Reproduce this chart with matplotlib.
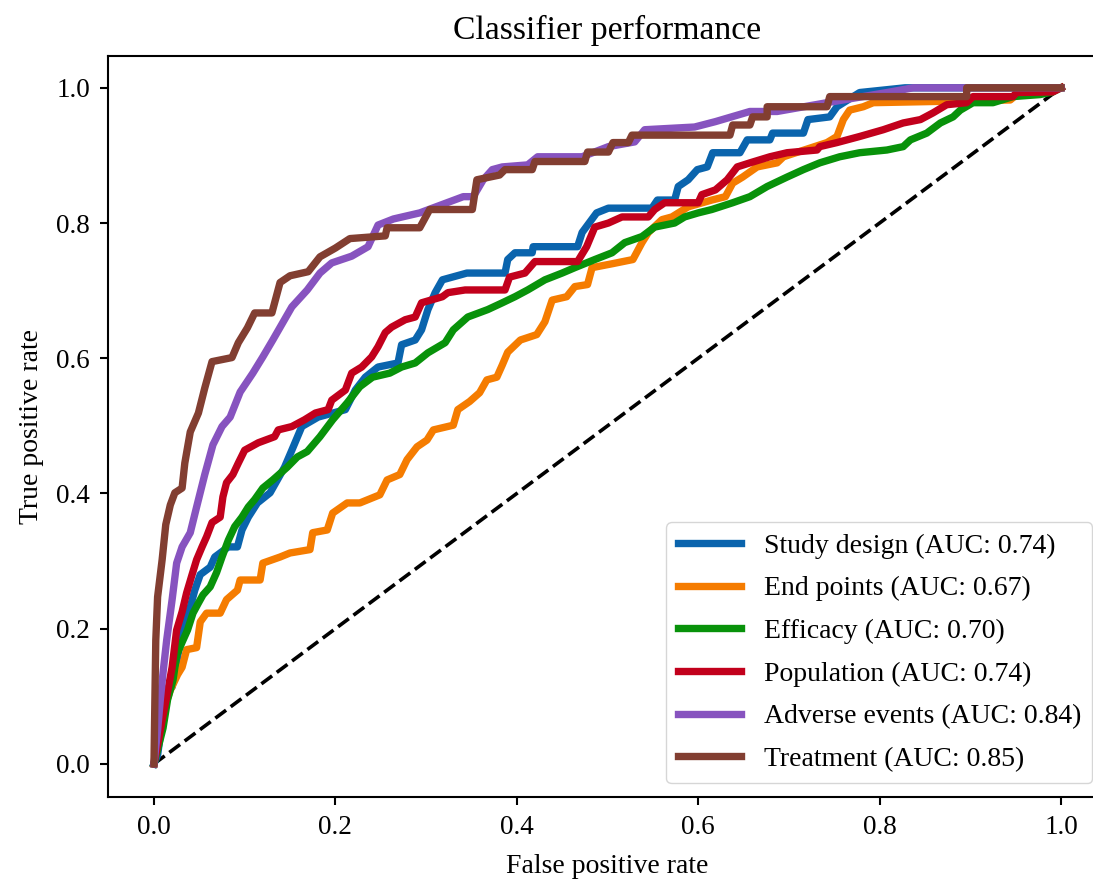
import matplotlib
matplotlib.use("Agg")
import matplotlib.pyplot as plt

plt.rcParams['font.family'] = ['Liberation Serif', 'DejaVu Serif']

# ROC curves (false positive rate, true positive rate)
study_fpr = [0, 0.004, 0.007, 0.010, 0.020, 0.026, 0.032, 0.040, 0.045, 0.051, 0.062, 0.067, 0.082, 0.092,
             0.097, 0.104, 0.114, 0.128, 0.136, 0.144, 0.152, 0.163, 0.181, 0.211, 0.222, 0.233, 0.247, 0.269,
             0.273, 0.288, 0.295, 0.302, 0.310, 0.318, 0.345, 0.387, 0.390, 0.398, 0.417, 0.418, 0.467, 0.472,
             0.488, 0.501, 0.549, 0.555, 0.574, 0.578, 0.589, 0.599, 0.610, 0.616, 0.646, 0.654, 0.679, 0.682,
             0.716, 0.721, 0.745, 0.753, 0.778, 0.828, 1.0]
study_tpr = [0, 0.013, 0.043, 0.099, 0.114, 0.158, 0.203, 0.232, 0.257, 0.280, 0.291, 0.306, 0.321, 0.321,
             0.346, 0.365, 0.386, 0.401, 0.420, 0.439, 0.464, 0.499, 0.513, 0.524, 0.553, 0.572, 0.587, 0.593,
             0.620, 0.627, 0.642, 0.672, 0.697, 0.716, 0.726, 0.726, 0.746, 0.756, 0.756, 0.765, 0.765, 0.786,
             0.815, 0.822, 0.822, 0.834, 0.834, 0.854, 0.864, 0.879, 0.883, 0.904, 0.904, 0.923, 0.923, 0.933,
             0.933, 0.953, 0.957, 0.972, 0.993, 1.0, 1.0]

end_fpr = [0, 0.004, 0.010, 0.018, 0.026, 0.031, 0.036, 0.047, 0.051, 0.058, 0.073, 0.080, 0.092, 0.095,
           0.117, 0.120, 0.139, 0.150, 0.172, 0.175, 0.191, 0.197, 0.213, 0.227, 0.249, 0.257, 0.271, 0.279,
           0.290, 0.301, 0.308, 0.330, 0.335, 0.348, 0.359, 0.367, 0.378, 0.384, 0.390, 0.404, 0.422, 0.431,
           0.439, 0.455, 0.464, 0.478, 0.483, 0.506, 0.528, 0.538, 0.545, 0.560, 0.571, 0.589, 0.615, 0.630,
           0.638, 0.649, 0.665, 0.687, 0.694, 0.742, 0.753, 0.760, 0.767, 0.782, 0.793, 0.944, 0.955, 1.0]
end_tpr = [0, 0.036, 0.077, 0.109, 0.132, 0.143, 0.169, 0.172, 0.210, 0.223, 0.223, 0.243, 0.257, 0.272,
           0.272, 0.297, 0.306, 0.312, 0.317, 0.342, 0.346, 0.371, 0.386, 0.386, 0.398, 0.420, 0.428, 0.450,
           0.469, 0.479, 0.494, 0.501, 0.524, 0.536, 0.549, 0.568, 0.572, 0.590, 0.609, 0.627, 0.635, 0.654,
           0.686, 0.691, 0.706, 0.709, 0.734, 0.740, 0.746, 0.771, 0.786, 0.805, 0.809, 0.824, 0.834, 0.839,
           0.859, 0.868, 0.883, 0.889, 0.898, 0.919, 0.928, 0.953, 0.967, 0.972, 0.978, 0.982, 0.994, 1.0]

eff_fpr = [0, 0.004, 0.010, 0.015, 0.021, 0.025, 0.031, 0.037, 0.043, 0.049, 0.054, 0.062, 0.069, 0.075,
           0.082, 0.089, 0.097, 0.104, 0.111, 0.120, 0.131, 0.147, 0.158, 0.169, 0.183, 0.197, 0.213, 0.227,
           0.241, 0.260, 0.273, 0.288, 0.302, 0.321, 0.330, 0.346, 0.368, 0.384, 0.398, 0.412, 0.431, 0.450,
           0.464, 0.486, 0.505, 0.519, 0.538, 0.552, 0.574, 0.585, 0.600, 0.615, 0.638, 0.657, 0.676, 0.698,
           0.716, 0.734, 0.756, 0.778, 0.808, 0.826, 0.834, 0.852, 0.867, 0.881, 0.889, 0.903, 0.925, 0.947,
           0.977, 0.991, 1.0]
eff_tpr = [0, 0.021, 0.053, 0.095, 0.124, 0.161, 0.180, 0.198, 0.223, 0.238, 0.250, 0.262, 0.283, 0.306,
           0.331, 0.351, 0.365, 0.380, 0.391, 0.408, 0.420, 0.439, 0.454, 0.462, 0.484, 0.509, 0.534, 0.558,
           0.572, 0.578, 0.587, 0.593, 0.608, 0.623, 0.642, 0.661, 0.672, 0.682, 0.691, 0.701, 0.716, 0.726,
           0.734, 0.746, 0.756, 0.771, 0.780, 0.794, 0.800, 0.809, 0.815, 0.820, 0.830, 0.839, 0.854, 0.868,
           0.879, 0.889, 0.898, 0.904, 0.908, 0.913, 0.923, 0.933, 0.948, 0.957, 0.967, 0.978, 0.978, 0.987,
           0.990, 0.994, 1.0]

pop_fpr = [0, 0.004, 0.009, 0.014, 0.020, 0.025, 0.031, 0.036, 0.042, 0.047, 0.053, 0.058, 0.064, 0.073,
           0.076, 0.080, 0.087, 0.093, 0.100, 0.115, 0.133, 0.137, 0.152, 0.166, 0.178, 0.192, 0.196, 0.211,
           0.218, 0.229, 0.240, 0.247, 0.255, 0.262, 0.277, 0.288, 0.295, 0.318, 0.324, 0.343, 0.387, 0.392,
           0.409, 0.420, 0.467, 0.477, 0.486, 0.501, 0.516, 0.545, 0.552, 0.563, 0.600, 0.604, 0.619, 0.632,
           0.643, 0.657, 0.679, 0.698, 0.731, 0.734, 0.753, 0.778, 0.804, 0.826, 0.845, 0.859, 0.874, 0.896,
           0.903, 0.947, 0.951, 0.991, 1.0]
pop_tpr = [0, 0.028, 0.065, 0.099, 0.143, 0.198, 0.225, 0.253, 0.280, 0.302, 0.321, 0.336, 0.357, 0.365,
           0.395, 0.416, 0.428, 0.445, 0.464, 0.475, 0.484, 0.494, 0.499, 0.509, 0.519, 0.524, 0.538, 0.553,
           0.578, 0.587, 0.602, 0.617, 0.638, 0.646, 0.657, 0.661, 0.682, 0.691, 0.697, 0.701, 0.701, 0.720,
           0.726, 0.743, 0.743, 0.765, 0.794, 0.800, 0.809, 0.809, 0.820, 0.830, 0.830, 0.842, 0.849, 0.864,
           0.883, 0.889, 0.898, 0.904, 0.908, 0.913, 0.919, 0.928, 0.938, 0.948, 0.953, 0.963, 0.975, 0.978,
           0.987, 0.987, 0.993, 0.994, 1.0]

adv_fpr = [0, 0.004, 0.007, 0.010, 0.014, 0.020, 0.025, 0.031, 0.040, 0.047, 0.056, 0.065, 0.075, 0.084,
           0.095, 0.109, 0.120, 0.131, 0.152, 0.169, 0.183, 0.196, 0.218, 0.236, 0.247, 0.264, 0.293, 0.323,
           0.341, 0.352, 0.363, 0.373, 0.384, 0.412, 0.423, 0.472, 0.501, 0.530, 0.541, 0.596, 0.619, 0.657,
           0.687, 0.742, 0.808, 0.837, 1.0]
adv_tpr = [0, 0.050, 0.095, 0.135, 0.183, 0.243, 0.297, 0.321, 0.342, 0.380, 0.428, 0.472, 0.499, 0.513,
           0.550, 0.578, 0.602, 0.627, 0.676, 0.701, 0.726, 0.741, 0.751, 0.765, 0.797, 0.806, 0.815, 0.830,
           0.839, 0.839, 0.864, 0.879, 0.883, 0.886, 0.898, 0.898, 0.913, 0.920, 0.938, 0.942, 0.950, 0.965,
           0.965, 0.978, 0.993, 1.0, 1.0]

treat_fpr = [0, 0.001, 0.002, 0.004, 0.009, 0.013, 0.018, 0.023, 0.031, 0.034, 0.040, 0.049, 0.056, 0.064,
             0.086, 0.093, 0.103, 0.111, 0.130, 0.139, 0.150, 0.170, 0.183, 0.200, 0.216, 0.255, 0.257, 0.293,
             0.304, 0.351, 0.356, 0.381, 0.387, 0.417, 0.420, 0.475, 0.478, 0.501, 0.506, 0.523, 0.527, 0.635,
             0.638, 0.657, 0.660, 0.676, 0.676, 0.742, 0.745, 0.896, 0.896, 1.0]
treat_tpr = [0, 0.095, 0.183, 0.247, 0.302, 0.354, 0.383, 0.401, 0.408, 0.445, 0.491, 0.519, 0.556, 0.595,
             0.601, 0.623, 0.645, 0.667, 0.667, 0.712, 0.722, 0.728, 0.750, 0.763, 0.777, 0.781, 0.793, 0.793,
             0.820, 0.820, 0.864, 0.871, 0.879, 0.879, 0.891, 0.891, 0.905, 0.905, 0.919, 0.919, 0.930, 0.930,
             0.945, 0.945, 0.957, 0.957, 0.972, 0.972, 0.987, 0.987, 1.0, 1.0]

names = ['Study design', 'End points', 'Efficacy', 'Population', 'Adverse events', 'Treatment']
aucs = [0.74, 0.67, 0.70, 0.74, 0.84, 0.85]
colors = ['#0a64ad', '#f57c00', '#08920a', '#c2001c', '#8753bf', '#823e31']
curves = [(study_fpr, study_tpr), (end_fpr, end_tpr), (eff_fpr, eff_tpr),
          (pop_fpr, pop_tpr), (adv_fpr, adv_tpr), (treat_fpr, treat_tpr)]

fig = plt.figure(figsize=(10.93, 8.81), dpi=100)
# the reference is cropped on the right, so the axes run past the figure edge
ax = fig.add_axes([0.0988, 0.0953, 0.9131, 0.8411])

ax.plot([0, 1], [0, 1], 'k--', lw=2.6)
for (fpr, tpr), name, auc, c in zip(curves, names, aucs, colors):
    ax.plot(fpr, tpr, color=c, lw=5.3, label='%s (AUC: %.2f)' % (name, auc))

ax.set_xlim(-0.0507, 1.0496)
ax.set_ylim(-0.049, 1.047)
ax.set_xticks([0, 0.2, 0.4, 0.6, 0.8, 1.0])
ax.set_yticks([0, 0.2, 0.4, 0.6, 0.8, 1.0])
ax.tick_params(labelsize=19.5, length=6, width=1.5, pad=7)
for s in ax.spines.values():
    s.set_linewidth(1.5)

ax.set_xlabel('False positive rate', fontsize=20, labelpad=10)
ax.set_ylabel('True positive rate', fontsize=20, labelpad=9)
ax.set_title('Classifier performance', fontsize=24.3, pad=12)
ax.legend(loc='lower right', fontsize=20, handlelength=2.3, labelspacing=0.62)

fig.savefig('out.png', dpi=100)
